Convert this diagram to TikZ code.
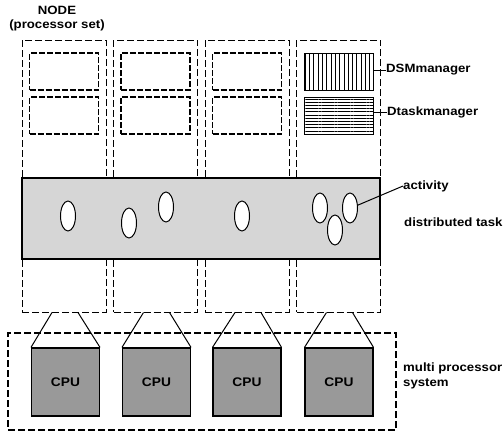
\documentclass[tikz,border=0pt]{standalone}
\usepackage{fontspec}
\setmainfont{Liberation Sans}
\newfontfamily\labfont{Liberation Sans}[FakeStretch=1.1]
\usetikzlibrary{shapes.geometric,patterns.meta}
\tikzset{
  col/.style={draw,dash pattern=on 7pt off 3pt,line width=1pt,minimum width=84pt,minimum height=272pt,inner sep=0pt},
  inbox/.style={draw,dash pattern=on 6pt off 2pt,line width=1.1pt,minimum width=69pt,minimum height=37pt,inner sep=0pt},
  task/.style={draw,line width=1.6pt,fill=black!16,minimum width=358pt,minimum height=81pt,inner sep=0pt},
  act/.style={ellipse,draw,line width=1pt,fill=white,minimum width=15pt,minimum height=30pt,inner sep=0pt},
  sys/.style={draw,dash pattern=on 7pt off 3pt,line width=2.3pt,minimum width=388pt,minimum height=97pt,inner sep=0pt},
  cpu/.style={draw,line width=1.1pt,fill=black!40,minimum width=68pt,minimum height=68pt,inner sep=0pt,font=\labfont\bfseries\fontsize{12.5}{14}\selectfont},
  lab/.style={inner sep=0pt,font=\labfont\bfseries\fontsize{12}{14.5}\selectfont},
  lead/.style={line width=1pt}
}
\begin{document}
\begin{tikzpicture}[x=1pt,y=-1pt]
\useasboundingbox (0,0) rectangle (504,432);
% columns
\foreach \i/\cx in {1/64,2/155.5,3/247,4/338.5}{
  \node[col] (col\i) at (\cx,176) {};
}
\foreach \i/\cx in {1/64,2/155.5,3/247}{
  \node[inbox] (ba\i) at (\cx,71.5) {};
  \node[inbox] (bb\i) at (\cx,115.5) {};
}
\node[draw,line width=1pt,minimum width=69pt,minimum height=37pt,inner sep=0pt,
  pattern={Lines[angle=90,distance=4.3pt,line width=1pt]}] (dsm) at (338.5,71.5) {};
\node[draw,line width=1pt,minimum width=69pt,minimum height=37pt,inner sep=0pt,
  pattern={Lines[angle=0,distance=3.2pt,line width=1pt]}] (dtm) at (338.5,115.5) {};
\node[lab,anchor=west] (dsml) at (386,70) {DSMmanager};
\node[lab,anchor=west] (dtml) at (387,112) {Dtaskmanager};
\draw[lead] (dsml.west) -- (dsml.west -| dsm.east);
\draw[lead] (dtml.west) -- (dtml.west -| dtm.east);
% task
\node[task] (task) at (201,218.5) {};
\node[act] (e1) at (68,216) {};
\node[act] (e2) at (129,223) {};
\node[act] (e3) at (166,207) {};
\node[act] (e4) at (242,216) {};
\node[act] (e5) at (320,208) {};
\node[act] (e6) at (335,230) {};
\node[act] (e7) at (350,208) {};
\node[lab,anchor=west] (actl) at (403,186) {activity};
\draw[lead] (e7.20) -- (actl.west);
\node[lab,anchor=west] (taskl) at (404,222) {distributed task};
% title
\node[lab,align=center] (title) at (57,18.5) {NODE\\(processor set)};
% system
\node[sys] (sys) at (202,381.5) {};
\foreach \i/\cx in {1/65.5,2/156.5,3/247,4/339}{
  \node[cpu] (cpu\i) at (\cx,382) {CPU};
}
\foreach \i in {1,2,3,4}{
  \draw[lead] ([xshift=-12pt]col\i.south) -- (cpu\i.north west);
  \draw[lead] ([xshift=14pt]col\i.south) -- (cpu\i.north east);
}
\node[lab,align=left,anchor=west] (sysl) at (403,376) {multi processor\\system};
\end{tikzpicture}
\end{document}
